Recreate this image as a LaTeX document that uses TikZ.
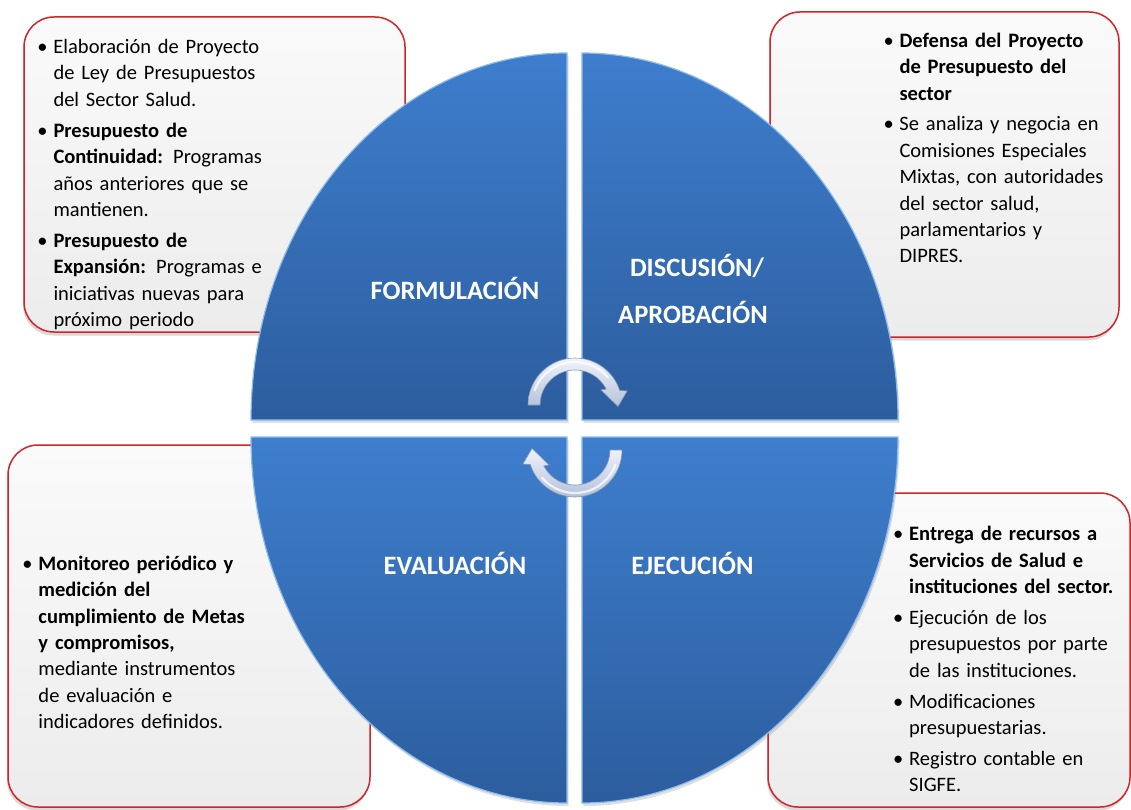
\documentclass[tikz,border=0pt]{standalone}
\usepackage{fontspec}
\setmainfont{Carlito}
\usetikzlibrary{shadows}

\definecolor{boxred}{RGB}{208,36,40}
\definecolor{boxtop}{RGB}{250,250,250}
\definecolor{boxbot}{RGB}{236,236,236}
\definecolor{quadtop}{RGB}{62,126,205}
\definecolor{quadbot}{RGB}{44,93,158}
\definecolor{quadedge}{RGB}{140,188,238}
\definecolor{arrowhi}{RGB}{240,243,250}
\definecolor{arrowlo}{RGB}{180,194,218}
\definecolor{arrowline}{RGB}{132,150,182}

% hanging bullet paragraphs, ragged right without stretching spaces
\newlength{\bulletind}
\setlength{\bulletind}{16pt}
\newcommand{\boxsetup}{\setlength{\parskip}{4.5pt}%
  \setlength{\rightskip}{0pt plus 1fil}}
\newcommand{\bitem}[1]{\par\hangindent=\bulletind\hangafter=1\noindent
  \hbox to\bulletind{\strut\hss\textbullet\hskip 5.8pt}#1\par}

\tikzset{
  infobox/.style={draw=boxred, line width=1.5pt, rounded corners=30pt,
    top color=boxtop, bottom color=boxbot, inner sep=0pt,
    drop shadow={shadow xshift=-1pt, shadow yshift=-3.5pt, opacity=0.3}},
  boxtext/.style={text width=330pt, inner sep=0pt, anchor=north west,
    font=\fontsize{20.5}{26.4}\selectfont},
  quadrant/.style={top color=quadtop, bottom color=quadbot, draw=quadedge,
    line width=1.2pt,
    drop shadow={shadow xshift=1.5pt, shadow yshift=-3pt, opacity=0.25}},
  quadlabel/.style={text=white, anchor=base, inner sep=0pt,
    font=\fontsize{26.5}{32}\selectfont\bfseries},
  arrowbody/.style={top color=arrowhi, bottom color=arrowlo,
    draw=arrowline, line width=0.6pt},
  pics/cyclearrow/.style={code={
    \path[arrowbody] (180:47) arc[start angle=180, end angle=342, radius=47]
      -- (345:54) -- (2:43) -- (330:30) -- (333:35)
      arc[start angle=333, end angle=180, radius=35] -- cycle;
    \draw[white, opacity=0.75, line width=2.2pt, line cap=round]
      (200:43) arc[start angle=200, end angle=320, radius=43];
  }}
}

\begin{document}
\begin{tikzpicture}[x=1pt, y=-1pt]
\useasboundingbox (0,0) rectangle (1131,810);

% text boxes
\node[infobox, minimum width=381pt, minimum height=315pt] (boxTL) at (214.5,174.5) {};
\node[infobox, minimum width=349pt, minimum height=325pt] (boxTR) at (944.5,174.5) {};
\node[infobox, minimum width=362pt, minimum height=362pt] (boxBL) at (189,626) {};
\node[infobox, minimum width=362pt, minimum height=314pt] (boxBR) at (949,650) {};

% the four quarters of the cycle
\path[quadrant] (567,420) -- (251,420)
  arc[start angle=180, end angle=270, x radius=316, y radius=367] -- cycle;
\path[quadrant] (582,420) -- (582,53)
  arc[start angle=270, end angle=360, x radius=316, y radius=367] -- cycle;
\path[quadrant] (567,437) -- (251,437)
  arc[start angle=180, end angle=90, x radius=316, y radius=366] -- cycle;
\path[quadrant] (582,437) -- (898,437)
  arc[start angle=0, end angle=90, x radius=316, y radius=366] -- cycle;

% stage names
\node[quadlabel] (lblForm) at (455,299) {FORMULACIÓN};
\node[quadlabel] (lblDisc) at (697,276) {DISCUSIÓN/};
\node[quadlabel] (lblAprob) at (693,323) {APROBACIÓN};
\node[quadlabel] (lblEval) at (455,574) {EVALUACIÓN};
\node[quadlabel] (lblEjec) at (692.5,574) {EJECUCIÓN};

% circular arrows in the middle
\pic (arrTop) at (575,405) {cyclearrow};
\pic[rotate=180] (arrBot) at (575,450) {cyclearrow};

% box contents
\node[boxtext] (txtTL) at (37.3,22.5) {\boxsetup
  \bitem{Elaboración de Proyecto\newline de Ley de Presupuestos\newline del Sector Salud.}
  \bitem{\textbf{Presupuesto de}\newline \textbf{Continuidad:} Programas\newline años anteriores que se\newline mantienen.}
  \bitem{\textbf{Presupuesto de}\newline \textbf{Expansión:} Programas e\newline iniciativas nuevas para\newline próximo periodo}};

\node[boxtext] (txtTR) at (883.3,16.2) {\boxsetup
  \bitem{\textbf{Defensa del Proyecto}\newline \textbf{de Presupuesto del}\newline \textbf{sector}}
  \bitem{Se analiza y negocia en\newline Comisiones Especiales\newline Mixtas, con autoridades\newline del sector salud,\newline parlamentarios y\newline DIPRES.}};

\node[boxtext] (txtBL) at (22.3,539.2) {\boxsetup
  \bitem{\textbf{Monitoreo periódico y}\newline \textbf{medición del}\newline \textbf{cumplimiento de Metas}\newline \textbf{y compromisos,}\newline mediante instrumentos\newline de evaluación e\newline indicadores definidos.}};

\node[boxtext] (txtBR) at (893,509.7) {\boxsetup
  \bitem{\textbf{Entrega de recursos a}\newline \textbf{Servicios de Salud e}\newline \textbf{instituciones del sector.}}
  \bitem{Ejecución de los\newline presupuestos por parte\newline de las instituciones.}
  \bitem{Modificaciones\newline presupuestarias.}
  \bitem{Registro contable en\newline SIGFE.}};
\end{tikzpicture}
\end{document}
